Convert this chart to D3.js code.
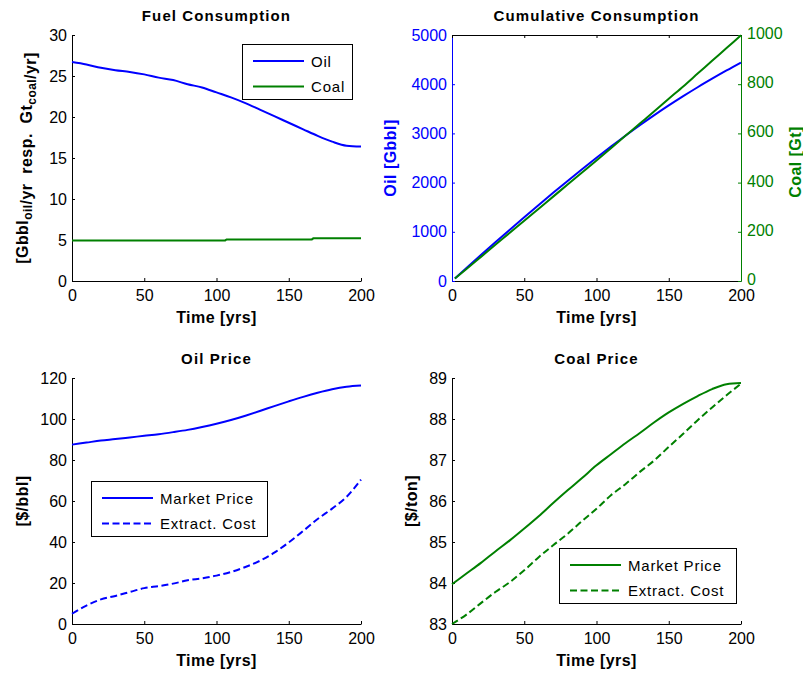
<!DOCTYPE html>
<html>
<head>
<meta charset="utf-8">
<script src="https://cdn.jsdelivr.net/npm/d3@7"></script>
<style>
  body { margin: 0; background: #fff; }
  svg { font-family: "Liberation Sans", Arial, Helvetica, sans-serif; }
  text { white-space: pre; }
</style>
</head>
<body>
<svg id="chart" width="803" height="673"></svg>
<script>
// ---------------- DATA ----------------
const years = [0,10,20,30,40,50,60,70,80,90,100,110,120,130,140,150,160,170,180,190,200];

// Fuel consumption
const oilConsumption = [26.7,26.4,26.0,25.7,25.5,25.2,24.8,24.5,24.0,23.6,23.0,22.4,21.7,20.9,20.1,19.3,18.5,17.7,17.0,16.5,16.4];
const coalConsYears = [0,106,107,166,167,200];
const coalConsumption = [4.95,4.95,5.07,5.07,5.2,5.2];

// Cumulative consumption
const cumYears = [2,10,20,30,40,50,60,70,80,90,100,110,120,130,140,150,160,170,180,190,200];
const oilCumulative = [53,265,527,786,1042,1295,1545,1792,2034,2272,2505,2732,2953,3166,3371,3568,3757,3938,4111,4279,4440];
const coalCumulative = [10,49,98,147,196,245,294,343,392,441,490,540,590,640,690,741,791,843,895,947,999];

// Oil price
const oilMarketPrice = [87.5,88.5,89.5,90.2,91.0,91.8,92.6,93.6,94.7,96.1,97.7,99.5,101.6,103.9,106.3,108.6,110.8,112.8,114.5,115.7,116.3];
const oilExtractCost = [5.0,9.0,12.0,13.7,15.6,17.5,18.5,19.7,21.3,22.3,23.6,25.4,27.8,30.8,34.8,39.8,45.4,51.2,56.3,62.0,70.4];

// Coal price
const coalMarketPrice = [83.97,84.23,84.49,84.77,85.04,85.33,85.63,85.95,86.26,86.56,86.87,87.14,87.41,87.66,87.92,88.16,88.37,88.56,88.73,88.85,88.88];
const coalExtractCost = [83.0,83.23,83.51,83.78,84.02,84.31,84.63,84.92,85.2,85.51,85.81,86.14,86.41,86.71,86.99,87.32,87.64,87.97,88.28,88.58,88.86];

// Tick labels
const timeTicks = [0,50,100,150,200];
const fuelTicks = [0,5,10,15,20,25,30];
const cumOilTicks = [0,1000,2000,3000,4000,5000];
const cumCoalTicks = [0,200,400,600,800,1000];
const oilPriceTicks = [0,20,40,60,80,100,120];
const coalPriceTicks = [83,84,85,86,87,88,89];

// ---------------- STYLE ----------------
const BLUE = "#0000ff";
const GREEN = "#008000";
const TICK_FS = 16;
const svg = d3.select("#chart");

function pairs(xs, ys) { return xs.map((x, i) => [x, ys[i]]); }

function makePanel(o) {
  const x = d3.scaleLinear().domain([0, 200]).range([o.x0, o.x1]);
  const y = d3.scaleLinear().domain(o.yDomain).range([o.y1, o.y0]);
  const g = svg.append("g");

  // x axis
  const xa = g.append("g").attr("transform", `translate(0,${o.y1})`)
    .call(d3.axisBottom(x).tickValues(timeTicks).tickSizeInner(-3).tickSizeOuter(0).tickPadding(9).tickFormat(d3.format("d")));
  xa.selectAll("text").attr("font-size", TICK_FS).attr("fill", "#000").style("font-family", "Liberation Sans, Arial, sans-serif");
  xa.selectAll("line,path").attr("stroke", "#000");

  // y axis
  const ya = g.append("g").attr("transform", `translate(${o.x0},0)`)
    .call(d3.axisLeft(y).tickValues(o.yTicks).tickSizeInner(-3).tickSizeOuter(0).tickPadding(5).tickFormat(d3.format("d")));
  ya.selectAll("text").attr("font-size", TICK_FS).attr("fill", o.yColor || "#000").style("font-family", "Liberation Sans, Arial, sans-serif");
  ya.selectAll("line,path").attr("stroke", o.yColor || "#000");

  // title
  g.append("text").attr("x", (o.x0 + o.x1) / 2).attr("y", o.y0 - 14)
    .attr("text-anchor", "middle").attr("font-size", 15).attr("font-weight", "bold")
    .attr("letter-spacing", "1.1px").text(o.title);
  // x label
  g.append("text").attr("x", (o.x0 + o.x1) / 2).attr("y", o.y1 + 42)
    .attr("text-anchor", "middle").attr("font-size", 16).attr("font-weight", "bold")
    .attr("letter-spacing", "0.45px").text("Time [yrs]");

  return { x, y, g };
}

function drawLine(p, xs, ys, color, dashed, yScale) {
  const ysc = yScale || p.y;
  p.g.append("path").datum(pairs(xs, ys))
    .attr("fill", "none").attr("stroke", color).attr("stroke-width", 2)
    .attr("stroke-dasharray", dashed ? "7,3.5" : null)
    .attr("d", d3.line().curve(d3.curveMonotoneX).x(d => p.x(d[0])).y(d => ysc(d[1])));
}

function drawStep(p, xs, ys, color) {
  p.g.append("path").datum(pairs(xs, ys))
    .attr("fill", "none").attr("stroke", color).attr("stroke-width", 2)
    .attr("d", d3.line().x(d => p.x(d[0])).y(d => p.y(d[1])));
}

function drawLegend(bx, by, bw, bh, items) {
  const g = svg.append("g");
  g.append("rect").attr("x", bx + 0.5).attr("y", by + 0.5).attr("width", bw).attr("height", bh)
    .attr("fill", "#fff").attr("stroke", "#000").attr("stroke-width", 1);
  items.forEach((it, i) => {
    const cy = by + 17 + i * 25.5;
    g.append("line").attr("x1", bx + 11).attr("x2", bx + 62).attr("y1", cy).attr("y2", cy)
      .attr("stroke", it.color).attr("stroke-width", 2)
      .attr("stroke-dasharray", it.dashed ? "7,3.5" : null);
    g.append("text").attr("x", bx + 69).attr("y", cy + 5.5).attr("font-size", 15)
      .attr("letter-spacing", "0.8px").text(it.label);
  });
}

function yLabel(parts, x, y, color) {
  const t = svg.append("text").attr("transform", `translate(${x},${y}) rotate(-90)`)
    .attr("text-anchor", "middle").attr("font-size", 16).attr("font-weight", "bold")
    .attr("letter-spacing", "0.45px").attr("fill", color || "#000");
  parts.forEach(p => {
    if (p.sub) {
      t.append("tspan").attr("font-size", 12).attr("dy", 4).text(p.text);
      t.append("tspan").attr("dy", -4).text("");
    } else {
      t.append("tspan").text(p.text);
    }
  });
}

// ---------------- PANEL 1: Fuel Consumption ----------------
const p1 = makePanel({ x0: 72, x1: 361, y0: 35, y1: 281, yDomain: [0, 30], yTicks: fuelTicks, title: "Fuel Consumption" });
drawLine(p1, years, oilConsumption, BLUE, false);
drawStep(p1, coalConsYears, coalConsumption, GREEN);
yLabel([{ text: "[Gbbl" }, { text: "oil", sub: true }, { text: "/yr  resp.  Gt" }, { text: "coal", sub: true }, { text: "/yr]" }], 28, 158);
drawLegend(242, 44, 110, 55, [{ label: "Oil", color: BLUE }, { label: "Coal", color: GREEN }]);

// ---------------- PANEL 2: Cumulative Consumption ----------------
const p2 = makePanel({ x0: 452, x1: 741, y0: 35, y1: 281, yDomain: [0, 5000], yTicks: cumOilTicks, title: "Cumulative Consumption", yColor: BLUE });
const yCoal = d3.scaleLinear().domain([0, 1000]).range([281, 35]);
// top border with inward ticks
const topAx = p2.g.append("g").attr("transform", "translate(0,35)")
  .call(d3.axisTop(p2.x).tickValues(timeTicks).tickSizeInner(-3).tickSizeOuter(0).tickFormat(""));
topAx.selectAll("line,path").attr("stroke", "#000");
// right axis
const ra = p2.g.append("g").attr("transform", "translate(741,0)")
  .call(d3.axisRight(yCoal).tickValues(cumCoalTicks).tickSizeInner(-3).tickSizeOuter(0).tickPadding(6).tickFormat(d3.format("d")));
ra.selectAll("text").attr("font-size", TICK_FS).attr("fill", GREEN).attr("dy", "0.22em").style("font-family", "Liberation Sans, Arial, sans-serif");
ra.selectAll("line,path").attr("stroke", GREEN);
drawLine(p2, cumYears, oilCumulative, BLUE, false);
drawLine(p2, cumYears, coalCumulative, GREEN, false, yCoal);
yLabel([{ text: "Oil [Gbbl]" }], 396, 158, BLUE);
yLabel([{ text: "Coal [Gt]" }], 801, 162, GREEN);

// ---------------- PANEL 3: Oil Price ----------------
const p3 = makePanel({ x0: 72, x1: 361, y0: 378, y1: 624, yDomain: [0, 120], yTicks: oilPriceTicks, title: "Oil Price" });
drawLine(p3, years, oilMarketPrice, BLUE, false);
drawLine(p3, years, oilExtractCost, BLUE, true);
yLabel([{ text: "[$/bbl]" }], 28, 501);
drawLegend(91, 481, 176, 55, [{ label: "Market Price", color: BLUE }, { label: "Extract. Cost", color: BLUE, dashed: true }]);

// ---------------- PANEL 4: Coal Price ----------------
const p4 = makePanel({ x0: 452, x1: 741, y0: 378, y1: 624, yDomain: [83, 89], yTicks: coalPriceTicks, title: "Coal Price" });
drawLine(p4, years, coalMarketPrice, GREEN, false);
drawLine(p4, years, coalExtractCost, GREEN, true);
yLabel([{ text: "[$/ton]" }], 417, 501);
drawLegend(559, 548, 177, 55, [{ label: "Market Price", color: GREEN }, { label: "Extract. Cost", color: GREEN, dashed: true }]);
</script>
</body>
</html>
